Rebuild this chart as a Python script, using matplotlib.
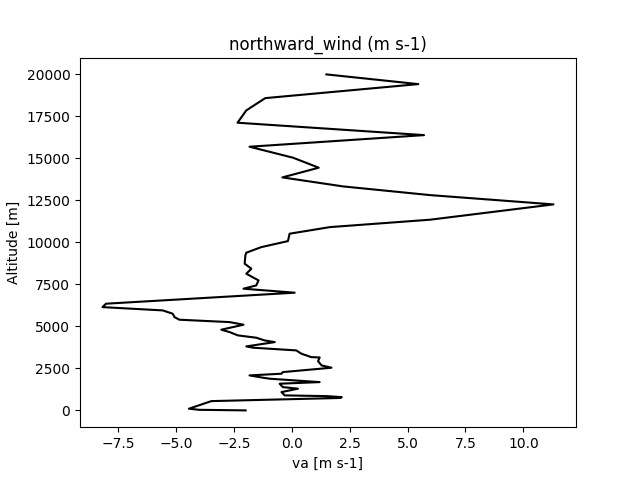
import matplotlib
matplotlib.use("Agg")
from matplotlib import pyplot as plt

# profile, from the ground up
altitude = [0, 20, 35, 100, 553, 740, 790, 850, 893, 1089,
            1292, 1387, 1589, 1684, 1887, 1946, 2083, 2184, 2280, 2541,
            2678, 2934, 3150, 3172, 3375, 3571, 3732, 3809, 4065, 4166,
            4327, 4464, 4660, 4803, 5101, 5256, 5398, 5553, 5756, 5952,
            6148, 6351, 7006, 7244, 7440, 7738, 8136, 8434, 8732, 9226,
            9386, 9720, 10077, 10517, 10910, 11351, 12262, 12815, 13333, 13869,
            14446, 15041, 15695, 16386, 17124, 17857, 18588, 19422, 20000]
va = [-2.0, -3.1, -4.0, -4.45, -3.48, 2.10, 2.15, 1.50, -0.31, -0.45,
      0.26, -0.39, -0.53, 1.20, -0.96, -1.25, -1.83, -0.45, -0.39, 1.71,
      1.28, 1.13, 1.20, 0.84, 0.41, 0.19, -1.68, -1.97, -0.74, -1.18,
      -1.54, -2.33, -2.69, -3.05, -2.09, -2.69, -4.86, -5.07, -5.15, -5.58,
      -8.18, -8.03, 0.12, -2.09, -1.54, -1.44, -1.97, -1.75, -2.04, -2.01,
      -1.97, -1.32, -0.17, -0.10, 1.64, 5.97, 11.30, 5.97, 2.21, -0.41,
      1.16, 0.05, -1.83, 5.71, -2.35, -1.97, -1.15, 5.46, 1.49]

fig = plt.figure(figsize=(6.4, 4.8), dpi=100)
ax = fig.add_subplot(111)
ax.plot(va, altitude, color='black')
ax.set_title("northward_wind (m s-1)")
ax.set_xlabel("va [m s-1]")
ax.set_ylabel("Altitude [m]")
fig.savefig("out.png", dpi=100)
